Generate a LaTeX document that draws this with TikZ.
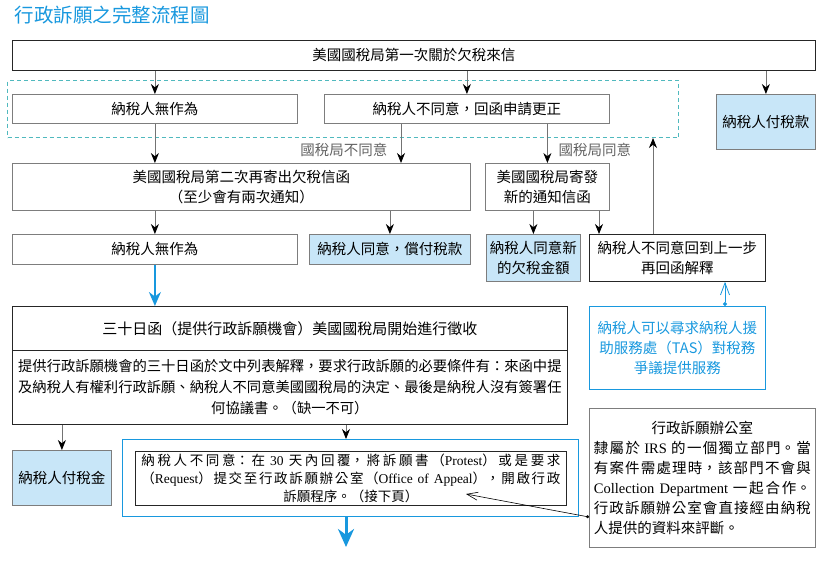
\documentclass[tikz,border=0pt]{standalone}
\usepackage{fontspec}
\setmainfont{Noto Sans CJK TC}
\newfontfamily\rmlat{Liberation Serif}
\XeTeXlinebreaklocale "zh"
\XeTeXlinebreakskip=0pt plus 2pt
\usetikzlibrary{arrows.meta}
\definecolor{titleblue}{RGB}{24,152,222}
\definecolor{lightfill}{RGB}{200,230,248}
\definecolor{dashteal}{RGB}{80,185,190}
\definecolor{labelgray}{RGB}{100,100,100}
\definecolor{linegray}{RGB}{125,125,125}
\begin{document}
\begin{tikzpicture}[>={Stealth[length=10pt,width=8pt,black]},x=1pt,y=-1pt,
        box/.style={draw=linegray,line width=0.8pt,inner sep=0pt,align=center,anchor=north west,font=\fontsize{14.5}{20}\selectfont},
        kbox/.style={box,draw=black!85},
        fillbox/.style={box,fill=lightfill},
        lbl/.style={text=labelgray,font=\fontsize{14.5}{16}\selectfont},
        arr/.style={draw=black!55,line width=0.8pt,->},
        barr/.style={draw=titleblue,line width=1.8pt,-{Stealth[length=14pt,width=12pt]}}]
        % \useasboundingbox(0,0)rectangle(825,563);
        \useasboundingbox(0,0)rectangle(825,563);
        \node[anchor=west,text=titleblue,font=\fontsize{19.5}{20}\selectfont](title)at(11,15){行政訴願之完整流程圖};
        \node[kbox,minimum width=803,minimum height=30](top)at(12,40){美國國稅局第一次關於欠稅來信};
        \node[draw=dashteal,line width=1pt,dash pattern=on 4pt off 3pt,anchor=north west,inner sep=0pt,minimum width=671,minimum height=57](grp)at(7,80){};
        \node[box,minimum width=285,minimum height=29](none1)at(12,94){納稅人無作為};
        \node[box,minimum width=285,minimum height=29](disagree)at(324,94){納稅人不同意，回函申請更正};
        \node[fillbox,minimum width=99,minimum height=55](paytax)at(716,94){納稅人付稅款};
        \node[box,minimum width=458,minimum height=47](second)at(12,163){美國國稅局第二次再寄出欠稅信函\\（至少會有兩次通知）};
        \node[box,minimum width=124,minimum height=47](newletter)at(485,163){美國國稅局寄發\\新的通知信函};
        \node[box,minimum width=285,minimum height=30](none2)at(12,234){納稅人無作為};
        \node[fillbox,minimum width=161,minimum height=30](agreepay)at(309,234){納稅人同意，償付稅款};
        \node[fillbox,minimum width=94,minimum height=47](agreenew)at(486,234){納稅人同意新\\的欠稅金額};
        \node[kbox,minimum width=176,minimum height=47](back)at(589,234){納稅人不同意回到上一步\\再回函解釋};
        \node[kbox,minimum width=555,minimum height=44,font=\fontsize{15}{20}\selectfont](thead)at(12,306){三十日函（提供行政訴願機會）美國國稅局開始進行徵收};
        \node[kbox,minimum width=555,minimum height=74,font=\fontsize{14.3}{21}\selectfont](tbody)at(12,350){提供行政訴願機會的三十日函於文中列表解釋，要求行政訴願的必要條件有：來函中提\\及納稅人有權利行政訴願、納稅人不同意美國國稅局的決定、最後是納稅人沒有簽署任\\何協議書。（缺一不可）};
        \node[box,draw=titleblue,text=titleblue,minimum width=176,minimum height=83](tas)at(589,306){納稅人可以尋求納稅人援\\助服務處（TAS）對稅務\\爭議提供服務};
        \node[fillbox,minimum width=99,minimum height=55](paygold)at(12,450){納稅人付稅金};
        \node[box,draw=titleblue,line width=1.2pt,minimum width=456,minimum height=77](outer)at(122,439){};
        \node[kbox,minimum width=431,minimum height=54,text width=419,align=justify,font=\fontsize{13.5}{18}\selectfont](inner)at(135,451){納稅人不同意：在 {\rmlat 30} 天內回覆，將訴願書（{\rmlat Protest}）或是要求\linebreak（{\rmlat Request}）提交至行政訴願辦公室（{\rmlat Office of Appeal}），開啟行政\linebreak\makebox[\linewidth]{訴願程序。（接下頁）}};
        \node[box,minimum width=226,minimum height=139,text width=217,align=justify](office)at(589,408){\makebox[\linewidth]{行政訴願辦公室}\linebreak 隸屬於 {\rmlat IRS} 的一個獨立部門。當\linebreak 有案件需處理時，該部門不會與\linebreak{\rmlat Collection Department} 一起合作。\linebreak 行政訴願辦公室會直接經由納稅\linebreak 人提供的資料來評斷。};
        \node[lbl,anchor=east](lno)at(391,150){國稅局不同意};
        \node[lbl,anchor=west](lyes)at(555,150){國稅局同意};
        \coordinate(cno)at(401,0);
        \coordinate(cback)at(599,0);
        \coordinate(cup)at(653,0);
        \coordinate(ctas)at(725,0);
        \coordinate(cnote)at(466,494);
        \coordinate(cnoteout)at(0,517);
        \coordinate(nextpg)at(346,547);
        \draw[arr](top.south-|none1)--(none1);
        \draw[arr](top.south-|disagree)--(disagree);
        \draw[arr](top.south-|paytax)--(paytax);
        \draw[arr](none1)--(none1|-second.north);
        \draw[arr](disagree.south-|cno)--(second.north-|cno);
        \draw[arr](disagree.south-|newletter)--(newletter);
        \draw[arr](second.south-|none2)--(none2);
        \draw[arr](second.south-|agreepay)--(agreepay);
        \draw[arr](newletter.south-|agreenew)--(agreenew);
        \draw[arr](newletter.south-|cback)--(back.north-|cback);
        \draw[arr](back.north-|cup)--(grp.south-|cup);
        \draw[barr](none2)--(none2|-thead.north);
        \draw[titleblue,line width=0.8pt,{Circle[length=4pt]}-{Straight Barb[length=12pt,width=9pt]}](tas.north-|ctas)--(back.south-|ctas);
        \draw[arr](tbody.south-|paygold)--(paygold);
        \draw[arr](tbody.south-|nextpg)--(outer.north-|nextpg);
        \draw[titleblue,line width=3pt,-{Stealth[length=18pt,width=16pt]}](outer.south-|nextpg)--(nextpg);
        \draw[line width=0.6pt,{Circle[length=3pt]}-{Straight Barb[length=11pt,width=8pt]}](office.west|-cnoteout)--(cnote);
    \end{tikzpicture}
\end{document}
